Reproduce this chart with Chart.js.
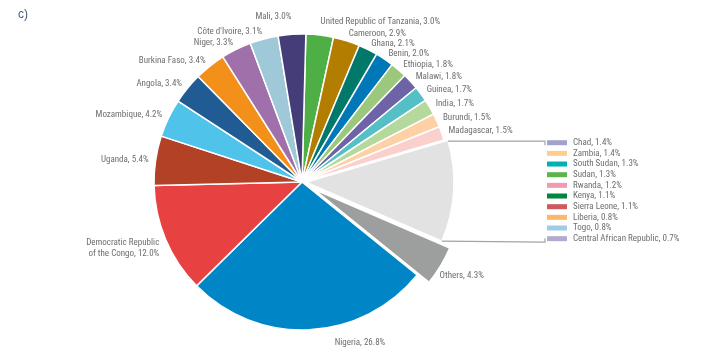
<!DOCTYPE html>
<html><head><meta charset="utf-8">
<script src="https://cdn.jsdelivr.net/npm/chart.js@4/dist/chart.umd.min.js"></script>
<style>
html,body{margin:0;padding:0;background:#fff;}
#wrap{position:relative;width:710px;height:356px;}
canvas{position:absolute;left:0;top:0;}
</style></head><body>
<div id="wrap"><canvas id="c" width="710" height="356"></canvas></div>
<script>
// Slices, clockwise from 12 o'clock
const categories = [
  'United Republic of Tanzania', 'Cameroon', 'Ghana', 'Benin', 'Ethiopia', 'Malawi',
  'Guinea', 'India', 'Burundi', 'Madagascar', '', 'Others', 'Nigeria',
  ['Democratic Republic', 'of the Congo'], 'Uganda', 'Mozambique', 'Angola',
  'Burkina Faso', 'Niger', "Côte d'Ivoire", 'Mali'
];
const values = [3.0, 2.9, 2.1, 2.0, 1.8, 1.8, 1.7, 1.7, 1.5, 1.5, 11.1, 4.3, 26.8,
  12.0, 5.4, 4.2, 3.4, 3.4, 3.3, 3.1, 3.0];
const colors = ['#4daf46', '#b37d00', '#00786a', '#0077b6', '#9bc87d', '#6f63a8',
  '#55bfc6', '#b5d99c', '#fdd1a5', '#f9d0cc', '#e1e2e1', '#9d9e9e', '#0085c7',
  '#e84142', '#b34125', '#4fc3ea', '#205b93', '#f39019', '#a070aa', '#9fc9d9', '#453d78'];

// Breakdown of the light-grey slice
const groupLabels = ['Chad', 'Zambia', 'South Sudan', 'Sudan', 'Rwanda', 'Kenya',
  'Sierra Leone', 'Liberia', 'Togo', 'Central African Republic'];
const groupValues = [1.4, 1.4, 1.3, 1.3, 1.2, 1.1, 1.1, 0.8, 0.8, 0.7];
const groupColors = ['#a1a3cd', '#fdcf8f', '#00b0b3', '#5db44a', '#f19ab3', '#00853e',
  '#cd5a5c', '#fbb86b', '#9ecbe9', '#b4a9cf'];
const groupIndex = 10;

// Styling
const explode = {10: 4, 11: 14};
const labelNudge = {0: [0, -6], 11: [-7, 6], 12: [25, 6], 13: [0, 6], 20: [0, -11]};
const FONT = '9px "Liberation Sans Narrow", "Roboto Condensed", "Liberation Sans", Arial, sans-serif';
const TEXT = '#6d6e71';

const explodePlugin = {
  id: 'explode',
  afterUpdate(chart) {
    const meta = chart.getDatasetMeta(0);
    meta.data.forEach((arc, i) => {
      const d = explode[i] || 0;
      if (!d || arc._exploded) return;
      arc._exploded = true;
      const orig = arc.draw;
      arc.draw = function (ctx) {
        const mid = (this.startAngle + this.endAngle) / 2;
        ctx.save();
        ctx.translate(Math.cos(mid) * d, Math.sin(mid) * d);
        orig.call(this, ctx);
        ctx.restore();
      };
    });
  }
};

const labelPlugin = {
  id: 'labels',
  afterDatasetsDraw(chart) {
    const ctx = chart.ctx;
    const meta = chart.getDatasetMeta(0);
    ctx.save();
    ctx.font = FONT;
    ctx.fillStyle = TEXT;
    ctx.textBaseline = 'middle';
    meta.data.forEach((arc, i) => {
      const cat = categories[i];
      if (!cat || (Array.isArray(cat) && !cat.length)) return;
      const p = arc.getProps(['x', 'y', 'startAngle', 'endAngle', 'outerRadius'], true);
      const mid = (p.startAngle + p.endAngle) / 2;
      const r = p.outerRadius + 7 + (explode[i] || 0);
      const n = labelNudge[i] || [0, 0];
      const px = p.x + Math.cos(mid) * r + n[0];
      const py = p.y + Math.sin(mid) * r + n[1];
      const lines = Array.isArray(cat) ? cat.slice() : [cat];
      lines[lines.length - 1] += ', ' + values[i].toFixed(1) + '%';
      ctx.textAlign = Math.cos(mid) >= 0 ? 'left' : 'right';
      const lh = 11;
      const y0 = py - (lines.length - 1) * lh / 2;
      lines.forEach((t, k) => ctx.fillText(t, px, y0 + k * lh));
    });

    // bracket and legend for the grouped slice
    const g = meta.data[groupIndex];
    const p = g.getProps(['x', 'y', 'startAngle', 'endAngle', 'outerRadius'], true);
    const mid = (p.startAngle + p.endAngle) / 2;
    const d = explode[groupIndex] || 0;
    const tx = Math.cos(mid) * d, ty = Math.sin(mid) * d;
    const R = p.outerRadius;
    const sx = p.x + Math.cos(p.startAngle) * R + tx, sy = p.y + Math.sin(p.startAngle) * R + ty + 1;
    const ex = p.x + Math.cos(p.endAngle) * R + tx, ey = p.y + Math.sin(p.endAngle) * R + ty;
    const bx = 545;
    ctx.strokeStyle = '#a3a3a3';
    ctx.lineWidth = 1.2;
    ctx.beginPath();
    ctx.moveTo(sx, sy); ctx.lineTo(bx, sy); ctx.lineTo(bx, sy + 4);
    ctx.moveTo(ex, ey); ctx.lineTo(bx, ey + 1); ctx.lineTo(bx, ey - 3);
    ctx.stroke();

    const top = sy + 1.5;
    const step = (ey - 2.5 - top) / (groupLabels.length - 1);
    ctx.textAlign = 'left';
    groupLabels.forEach((lab, k) => {
      const y = top + k * step;
      ctx.fillStyle = groupColors[k];
      ctx.fillRect(bx + 2, y - 2.5, 20, 5);
      ctx.fillStyle = TEXT;
      ctx.fillText(lab + ', ' + groupValues[k].toFixed(1) + '%', bx + 28, y);
    });

    // panel letter
    ctx.font = '12px "Liberation Sans", Arial, sans-serif';
    ctx.fillStyle = '#4a5a78';
    ctx.fillText('c)', 18, 15);
    ctx.restore();
  }
};

new Chart(document.getElementById('c'), {
  type: 'pie',
  data: {
    labels: categories,
    datasets: [{
      data: values,
      backgroundColor: colors,
      borderColor: '#ffffff',
      borderWidth: 1.5,
      radius: 148
    }]
  },
  options: {
    responsive: false,
    animation: false,
    devicePixelRatio: 1,
    rotation: 1.5,
    layout: {padding: {left: 0, right: 106, top: 8, bottom: 0}},
    plugins: {legend: {display: false}, tooltip: {enabled: false}}
  },
  plugins: [explodePlugin, labelPlugin]
});
</script>
</body></html>
